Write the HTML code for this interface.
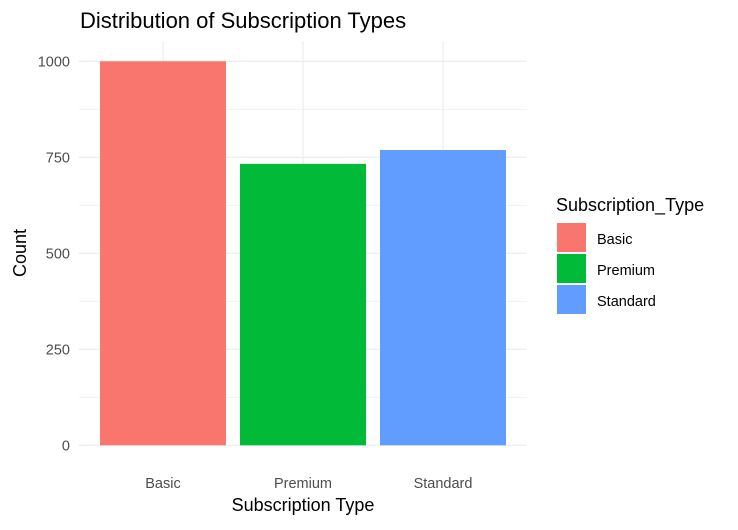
<!DOCTYPE html>
<html><head><meta charset="utf-8"><style>
body{margin:0;background:#fff;font-family:"Liberation Sans",Arial,sans-serif}
</style></head><body>
<svg id="chart" width="738" height="525" xmlns="http://www.w3.org/2000/svg" font-family="Liberation Sans, Arial, sans-serif">
<text x="80" y="28" font-size="22" fill="#000">Distribution of Subscription Types</text>
<g id="grid"></g><g id="bars"></g><g id="axes"></g>
<text x="303" y="511" font-size="18" text-anchor="middle" fill="#000">Subscription Type</text>
<text transform="translate(26,253) rotate(-90)" font-size="18" text-anchor="middle" fill="#000">Count</text>
<g>
<text x="556" y="211" font-size="18" fill="#000">Subscription_Type</text>
<g id="legend-items"></g>
</g>
</svg>
<script>
const categories = ["Basic","Premium","Standard"];
const counts = [1000,733,769];
const colors = ["#F8766D","#00BA38","#619CFF"];
const yTicks = [0,250,500,750,1000];
const NS="http://www.w3.org/2000/svg";
const y0=445.3, yScale=0.384;
const y=v=>y0-v*yScale;
const band=140, left=79;
const xc=i=>left+band*0.6+i*band;
const panelL=79, panelR=79+band*(categories.length+0.2);
function mk(tag,attrs,parent){const e=document.createElementNS(NS,tag);for(const k in attrs)e.setAttribute(k,attrs[k]);parent.appendChild(e);return e;}
const grid=document.getElementById('grid'),bars=document.getElementById('bars'),axes=document.getElementById('axes'),leg=document.getElementById('legend-items');
const maxT=yTicks[yTicks.length-1];
for(let i=0;i<yTicks.length;i++){
  const l=mk('line',{x1:panelL,x2:panelR,y1:y(yTicks[i]),y2:y(yTicks[i]),stroke:'#ebebeb','stroke-width':1.1},grid);
  
  
  if(i<yTicks.length-1){
    const m=(yTicks[i]+yTicks[i+1])/2;
    const l2=mk('line',{x1:panelL,x2:panelR,y1:y(m),y2:y(m),stroke:'#f0f0f0','stroke-width':0.8},grid);
    
    
  }
  const t=mk('text',{x:70,y:y(yTicks[i])+5,'font-size':14.5,'text-anchor':'end',fill:'#4d4d4d'},axes);
  t.textContent=yTicks[i];
  
  
}
const topY=y(maxT)-20;
categories.forEach((c,i)=>{
  const g=mk('line',{x1:xc(i),x2:xc(i),y1:topY,y2:y0,stroke:'#ebebeb','stroke-width':1.1},grid);
  
  
  const w=band*0.9;
  const r=mk('rect',{x:xc(i)-w/2,y:y(counts[i]),width:w,height:counts[i]*yScale,fill:colors[i]},bars);
  
  
  const t=mk('text',{x:xc(i),y:488,'font-size':14.5,'text-anchor':'middle',fill:'#4d4d4d'},axes);
  t.textContent=c;
  
  
  const k=mk('rect',{x:557,y:223+i*31,width:29,height:29,fill:colors[i]},leg);
  
  
  const lt=mk('text',{x:597,y:244+i*31,'font-size':14.5,fill:'#000'},leg);
  lt.textContent=c;
  
  
});
</script>
</body></html>
